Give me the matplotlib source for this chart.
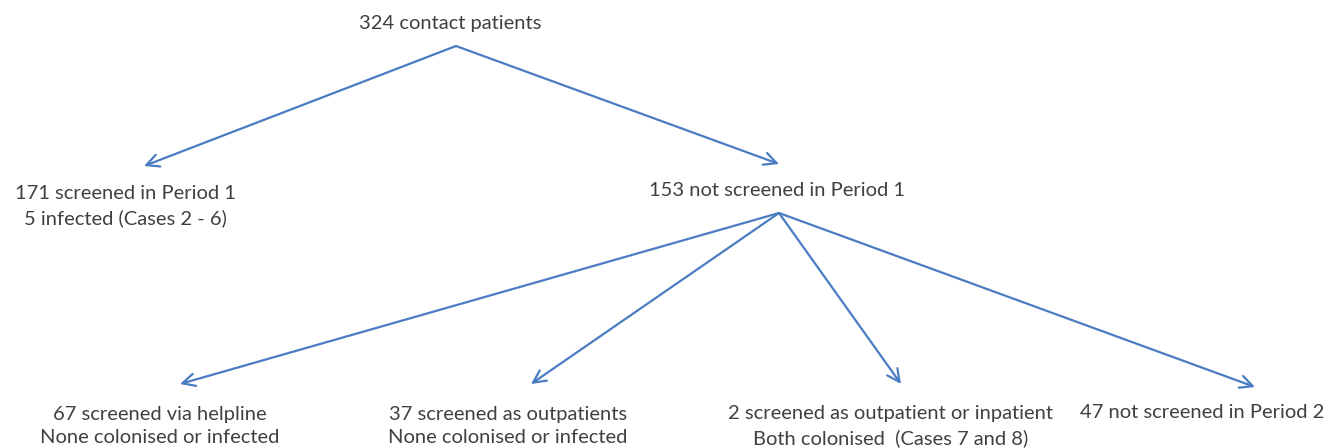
import matplotlib
matplotlib.use("Agg")
import matplotlib.pyplot as plt

# node data
counts = [324, 171, 153, 67, 37, 2, 47]
labels = [
    "324 contact patients",
    "171 screened in Period 1\n5 infected (Cases 2 - 6)",
    "153 not screened in Period 1",
    "67 screened via helpline\nNone colonised or infected",
    "37 screened as outpatients\nNone colonised or infected",
    "2 screened as outpatient or inpatient\nBoth colonised  (Cases 7 and 8)",
    "47 not screened in Period 2",
]
# parent index of each node (-1 for root)
parents = [-1, 0, 0, 2, 2, 2, 2]

# layout in pixel coordinates (x, y of text centre)
text_pos = [(450, 24), (125, 206), (777, 191), (160, 426), (508, 426), (891, 426), (1202, 413)]
# where arrows start (below parent text) and end (arrow tips)
start_pos = [(456, 46), None, (779, 213), None, None, None, None]
tip_pos = [None, (144, 166), (779, 164), (180, 384), (531, 384), (901, 384), (1255, 387)]

line_color = "#4a7cc2"
text_color = "#404040"

fig = plt.figure(figsize=(13.27, 4.48), dpi=100)
ax = fig.add_axes([0, 0, 1, 1])
ax.set_xlim(0, 1327)
ax.set_ylim(448, 0)
ax.axis("off")

for i, lab in enumerate(labels):
    tx, ty = text_pos[i]
    ax.text(tx, ty, lab, ha="center", va="center", fontsize=14.5,
            family="Lato", color=text_color, linespacing=1.45)
    p = parents[i]
    if p >= 0:
        ax.annotate("", xy=tip_pos[i], xytext=start_pos[p],
                    arrowprops=dict(arrowstyle="->,head_length=0.9,head_width=0.45",
                                    color=line_color, lw=1.6,
                                    shrinkA=0, shrinkB=0))

fig.savefig("out.png", dpi=100)
